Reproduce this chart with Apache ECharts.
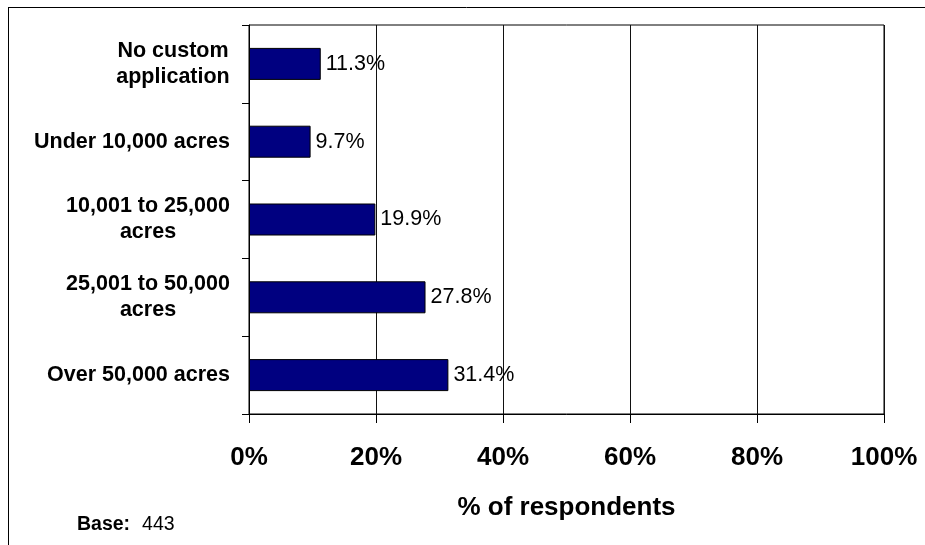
<!DOCTYPE html>
<html><head><meta charset="utf-8">
<script src="https://cdn.jsdelivr.net/npm/echarts@6/dist/echarts.min.js"></script>
<style>html,body{margin:0;padding:0;background:#fff}#c{width:925px;height:545px}</style>
</head><body><div id="c"></div>
<script>
const categories = ["No custom\napplication", "Under 10,000 acres", "10,001 to 25,000\nacres", "25,001 to 50,000\nacres", "Over 50,000 acres"];
const values = [11.3, 9.7, 19.9, 27.8, 31.4];
const xTicks = [0, 20, 40, 60, 80, 100];
const axisTitle = "% of respondents";
const baseLabel = "Base:";
const baseValue = "443";

const FONT = "'Liberation Sans', Arial, sans-serif";
const CAT_SIZE = 21.5;
// measure lines so multi-line labels are centred within a right-aligned block
const ctx = document.createElement('canvas').getContext('2d');
ctx.font = 'bold ' + CAT_SIZE + 'px ' + FONT;
const rich = {};
categories.forEach((c, i) => {
  const w = Math.max(...c.split('\n').map(s => ctx.measureText(s).width));
  rich['l' + i] = {width: Math.ceil(w), align: 'center', fontFamily: FONT, fontWeight: 'bold', fontSize: CAT_SIZE, color: '#000', lineHeight: 26};
});

const chart = echarts.init(document.getElementById('c'), null, {renderer: 'canvas'});
chart.setOption({
  animation: false,
  backgroundColor: '#fff',
  grid: {left: 249, right: 41, top: 25, bottom: 131, show: true, borderColor: '#000', borderWidth: 1, backgroundColor: 'transparent'},
  xAxis: {
    type: 'value', min: xTicks[0], max: xTicks[xTicks.length - 1], interval: 20,
    axisLine: {show: true, lineStyle: {color: '#000', width: 1}},
    axisTick: {show: true, inside: false, length: 9, lineStyle: {color: '#000'}},
    splitLine: {show: true, lineStyle: {color: '#111', width: 1}},
    axisLabel: {formatter: v => v + '%', fontFamily: FONT, fontWeight: 'bold', fontSize: 26, color: '#000', margin: 31},
    name: axisTitle, nameLocation: 'middle', nameGap: 81,
    nameTextStyle: {fontFamily: FONT, fontWeight: 'bold', fontSize: 26, color: '#000'}
  },
  yAxis: {
    type: 'category', data: categories, inverse: true,
    axisLine: {show: true, lineStyle: {color: '#000', width: 1}},
    axisTick: {show: true, length: 7, lineStyle: {color: '#000'}},
    axisLabel: {
      formatter: (v, i) => v.indexOf('\n') < 0 ? v : v.split('\n').map(s => '{l' + i + '|' + s + '}').join('\n'),
      rich: rich,
      fontFamily: FONT, fontWeight: 'bold', fontSize: CAT_SIZE, color: '#000', margin: 19, lineHeight: 26, align: 'right'
    }
  },
  series: [{
    type: 'bar', data: values, barWidth: 32,
    itemStyle: {color: '#000080', borderColor: '#000', borderWidth: 1},
    label: {show: true, position: 'right', distance: 5, formatter: p => p.value.toFixed(1) + '%', fontFamily: FONT, fontSize: 21.5, color: '#000'}
  }],
  graphic: [
    {type: 'line', shape: {x1: 8.5, y1: 7, x2: 8.5, y2: 545}, style: {stroke: '#000', lineWidth: 1}},
    {type: 'line', shape: {x1: 8, y1: 7.5, x2: 925, y2: 7.5}, style: {stroke: '#000', lineWidth: 1}},
    {type: 'text', left: 77, top: 515, style: {text: '{b|' + baseLabel + '}{n|' + baseValue + '}', rich: {b: {fontFamily: FONT, fontWeight: 'bold', fontSize: 19.5, fill: '#000'}, n: {fontFamily: FONT, fontSize: 19.5, fill: '#000', padding: [0, 0, 0, 12]}}}}
  ]
});
</script></body></html>
